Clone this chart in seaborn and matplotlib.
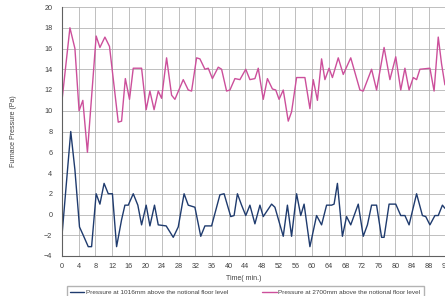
import matplotlib
matplotlib.use("Agg")
import matplotlib.pyplot as plt
import seaborn as sns
import pandas as pd

# Pressure at 2700mm above the notional floor level
t_2700 = [0, 1.9, 3.1, 4.1, 5, 6.1, 8.2, 9.1, 10.3, 11.4, 13.5, 14.3, 15.2, 16.2, 17.1, 19.1,
          20.2, 21.1, 22.1, 23.1, 23.9, 25.1, 26.3, 27.1, 29.1, 30.3, 31.1, 32.3, 33.1, 34.3,
          35.1, 36.1, 37.5, 38.3, 39.5, 40.3, 41.5, 42.7, 44.1, 45.1, 46.3, 47.1, 48.3, 49.3,
          50.5, 51.3, 52.1, 53.1, 54.3, 55.1, 56.3, 58.3, 59.5, 60.3, 61.3, 62.3, 63.1, 64.1,
          64.9, 66.3, 67.5, 69.3, 71.5, 72.3, 74.3, 75.5, 77.3, 78.7, 80.1, 81.3, 82.3, 83.3,
          84.3, 85.1, 85.9, 88.3, 89.3, 90.3, 91.1, 91.9]
p_2700 = [11, 18, 16, 10, 11, 6, 17.2, 16.1, 17.1, 16.2, 8.9, 9, 13.1, 11.1, 14.1, 14.1,
          10.1, 11.9, 10.1, 11.9, 11.2, 15.1, 11.5, 11.1, 13, 12, 11.9, 15.1, 15, 14,
          14.1, 13.1, 14.2, 14, 11.9, 12, 13.1, 13, 14, 13, 13.1, 14.1, 11.1, 13.1,
          12.1, 12, 11.1, 12, 9, 9.9, 13.2, 13.2, 10.2, 13, 11, 15, 13, 14.1,
          13.2, 15.1, 13.5, 15.1, 12, 11.9, 14, 12, 16.1, 13, 15.2, 12, 14.1, 12,
          13.2, 13, 14, 14.1, 11.9, 17.1, 14.5, 12.5]

# Pressure at 1016mm above the notional floor level
t_1016 = [0, 2.1, 3.1, 4.2, 5.1, 6.3, 7.1, 8.2, 9.1, 10.1, 11.1, 12.1, 13.1, 14.3, 15.1,
          15.9, 17.1, 18.2, 19.1, 20.2, 21.1, 22.2, 23.1, 25, 26.7, 27.9, 29.3, 30.3, 31.9,
          33.3, 34.3, 35.9, 37.9, 38.9, 40.5, 41.3, 42.1, 43.1, 44.1, 45.1, 46.3, 47.5, 48.3,
          50.3, 51.1, 53.1, 54.1, 55.1, 56.3, 57.3, 58.1, 59.5, 61.1, 62.3, 63.5, 64.7, 65.3,
          66.1, 67.3, 68.3, 69.3, 71.1, 72.3, 73.3, 74.3, 75.5, 76.7, 77.3, 78.5, 80.1, 81.3,
          82.3, 83.3, 85.1, 86.5, 87.3, 88.3, 89.5, 90.3, 91.3, 91.9]
p_1016 = [-2, 8, 4.3, -1.2, -2, -3.1, -3.1, 2, 1, 3, 2, 2, -3.1, -0.5, 0.9,
          0.9, 2, 0.9, -1, 0.9, -1.1, 0.9, -1, -1.1, -2.2, -1.2, 2, 0.9, 0.7,
          -2.1, -1.1, -1.1, 1.9, 2, -0.2, -0.1, 2, 0.9, -0.1, 0.9, -0.9, 0.9, -0.2,
          1, 0.7, -2.1, 0.9, -2.1, 2, -0.1, 1, -3.1, -0.1, -1, 0.9, 0.9, 1,
          3, -2.1, -0.2, -1, 1, -2.1, -1, 0.9, 0.9, -2.2, -2.2, 1, 1, -0.1,
          -0.1, -1, 2, -0.1, -0.2, -1, -0.1, -0.1, 0.9, 0.6]

label_1016 = "Pressure at 1016mm above the notional floor level"
label_2700 = "Pressure at 2700mm above the notional floor level"
x_ticks = list(range(0, 97, 4))
y_ticks = list(range(-4, 21, 2))

df = pd.concat([
    pd.DataFrame({"time": t_1016, "pressure": p_1016, "series": label_1016}),
    pd.DataFrame({"time": t_2700, "pressure": p_2700, "series": label_2700}),
])

sns.set_style("white")
plt.rcParams["font.family"] = ["Liberation Sans", "DejaVu Sans"]

fig = plt.figure(figsize=(4.45, 2.96), dpi=100)
ax = fig.add_axes([62 / 445, 40 / 296, 400 / 445, 249 / 296])

sns.lineplot(data=df, x="time", y="pressure", hue="series", sort=False,
             palette={label_1016: "#1f3b6e", label_2700: "#cc4f9b"},
             linewidth=1.0, ax=ax, legend=False)

ax.set_xlim(0, 96)
ax.set_ylim(-4, 20)
ax.set_xticks(x_ticks)
ax.set_yticks(y_ticks)
ax.grid(True, color="#b4b4b4", linewidth=0.6)
ax.tick_params(length=0, labelsize=5.2, labelcolor="#404040")
ax.tick_params(axis="x", pad=5)
ax.tick_params(axis="y", pad=7)
for side in ["top", "right"]:
    ax.spines[side].set_visible(False)
for side in ["left", "bottom"]:
    ax.spines[side].set_color("#606060")
    ax.spines[side].set_linewidth(0.8)

ax.set_xlabel("Time( min.)", fontsize=5, color="#404040")
ax.xaxis.set_label_coords(43.6 / 96, -0.075)
ax.set_ylabel("Furnace Pressure (Pa)", fontsize=5, color="#404040")
ax.yaxis.set_label_coords(-0.112, 0.5)

handles = [plt.Line2D([], [], color="#1f3b6e", lw=1.0),
           plt.Line2D([], [], color="#cc4f9b", lw=1.0)]
fig.legend(handles, [label_1016, label_2700], loc="upper left",
           bbox_to_anchor=(64 / 445, 1 - 283 / 296), ncol=2, fontsize=4.6,
           frameon=True, fancybox=False, edgecolor="#a0a0a0",
           handlelength=2.2, handletextpad=0.3, columnspacing=5.3,
           borderpad=0.5, labelcolor="#404040")

fig.savefig("out.png", dpi=100)
